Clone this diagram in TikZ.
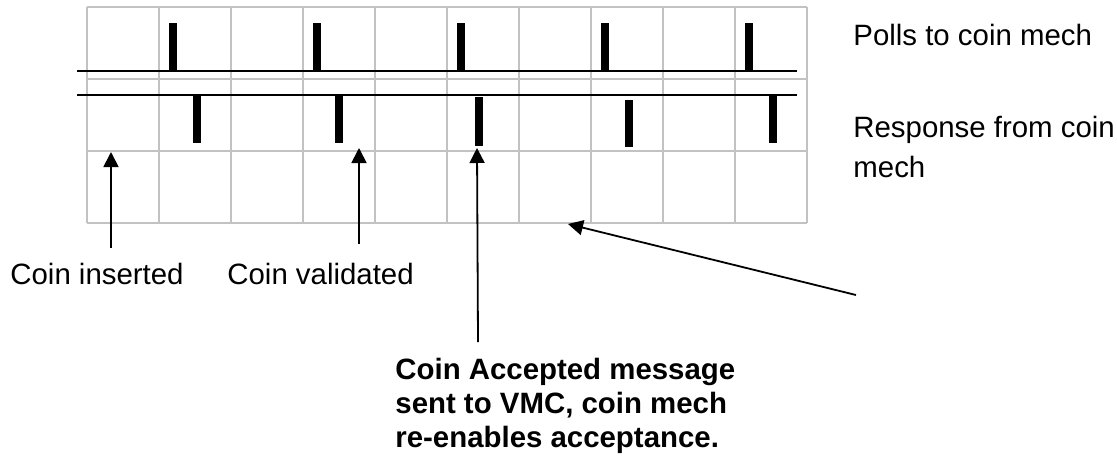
\documentclass[tikz,border=0pt]{standalone}
\usepackage{fontspec}
\setmainfont{Liberation Sans}
\usetikzlibrary{arrows.meta,positioning}

\begin{document}
\begin{tikzpicture}[
  x=0.5pt,y=-0.5pt,
  gridline/.style={draw=black!24,line width=0.9pt},
  busline/.style={draw=black,line width=0.9pt},
  pulse/.style={fill=black},
  txt/.style={anchor=base west,inner sep=0pt,align=left,font=\fontsize{14.7}{20}\selectfont},
  boldtxt/.style={txt,font=\fontsize{14.7}{17}\selectfont\bfseries},
  arrow/.style={-{Triangle[length=7.5pt,width=7.5pt]},line width=0.9pt},
]
\useasboundingbox (0,0) rectangle (1117,456);
% grid
\foreach \i in {0,...,10}
  \draw[gridline] (87+72*\i,7) -- (87+72*\i,223);
\foreach \j in {0,...,3}
  \draw[gridline] (87,7+72*\j) -- (807,7+72*\j);
% poll and response lines
\draw[busline] (77,71) -- (797,71);
\draw[busline] (77,95) -- (797,95);
\foreach \c in {173,317,461,605,749}
  \fill[pulse] (\c-4,23) rectangle (\c+4,71);
\fill[pulse] (193,95) rectangle (201,143);
\fill[pulse] (335,95) rectangle (343,143);
\fill[pulse] (475,97) rectangle (483,146);
\fill[pulse] (625,100) rectangle (633,147);
\fill[pulse] (769,95) rectangle (777,143);
% texts (base of a multi-line node is its last line)
\node[txt] (polls) at (853,45) {Polls to coin mech};
\node[txt] (resp) at (853,177) {Response from coin\\mech};
\node[txt] (inserted) at (10,284) {Coin inserted};
\node[txt] (validated) at (227,284) {Coin validated};
\node[boldtxt] (accepted) at (395,447) {Coin Accepted message\\sent to VMC, coin mech\\re-enables acceptance.};
% arrows
\coordinate (insTail) at (111,248);
\coordinate (insTip) at (111,152);
\coordinate (valTail) at (359,244);
\coordinate (valTip) at (359,148);
\coordinate (accTail) at (478,342);
\coordinate (accTip) at (477,148);
\coordinate (idleTail) at (856,295);
\coordinate (idleTip) at (568,224);
\draw[arrow] (insTail) -- (insTip);
\draw[arrow] (valTail) -- (valTip);
\draw[arrow] (accTail) -- (accTip);
\draw[arrow] (idleTail) -- (idleTip);
\end{tikzpicture}
\end{document}
